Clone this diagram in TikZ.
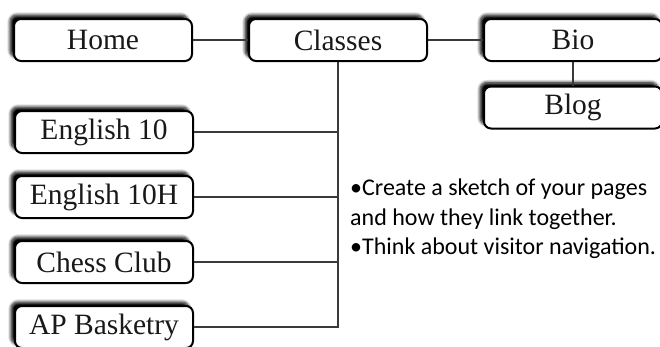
\documentclass[tikz,border=0pt]{standalone}
\usepackage{fontspec}
\setmainfont{Liberation Serif}
\newfontfamily\notefont{Carlito}
\usetikzlibrary{shadows.blur}
\definecolor{linegray}{HTML}{3A3A3A}
\tikzset{
  pagebox/.style={draw=black, line width=2pt, fill=white, rounded corners=7pt,
    minimum width=178pt, minimum height=42pt, inner sep=0pt,
    font=\fontsize{29.5}{32}\selectfont, text=black!90,
    blur shadow={shadow xshift=-4pt, shadow yshift=4pt, shadow blur radius=3pt, shadow opacity=100, shadow blur steps=8}},
  conn/.style={draw=linegray, line width=2pt},
  notes/.style={anchor=north west, align=left, inner sep=0pt, text=black,
    font=\notefont\fontsize{24}{29.3}\selectfont}
}
\begin{document}
\begin{tikzpicture}[x=1pt,y=-1pt]
\useasboundingbox (0,0) rectangle (660,346);
\node[pagebox] (home) at (103,40) {Home};
\node[pagebox] (classes) at (338,40) {Classes};
\node[pagebox] (bio) at (573,40) {Bio};
\node[pagebox] (blog) at (573,107.5) {Blog};
\node[pagebox] (e10) at (104,132) {English 10};
\node[pagebox] (e10h) at (104,197) {English 10H};
\node[pagebox] (chess) at (104,262) {Chess Club};
\node[pagebox] (ap) at (104,327) {AP Basketry};
\draw[conn] (home.east) -- (classes.west);
\draw[conn] (classes.east) -- (bio.west);
\draw[conn] (bio.south) -- (blog.north);
\draw[conn] (classes.south) -- (classes.south |- ap.east) -- (ap.east);
\draw[conn] (e10.east) -- (e10.east -| classes.south);
\draw[conn] (e10h.east) -- (e10h.east -| classes.south);
\draw[conn] (chess.east) -- (chess.east -| classes.south);
\node[notes] (note) at (350,179) {•Create a sketch of your pages\\and how they link together.\\•Think about visitor navigation.};
\end{tikzpicture}
\end{document}
